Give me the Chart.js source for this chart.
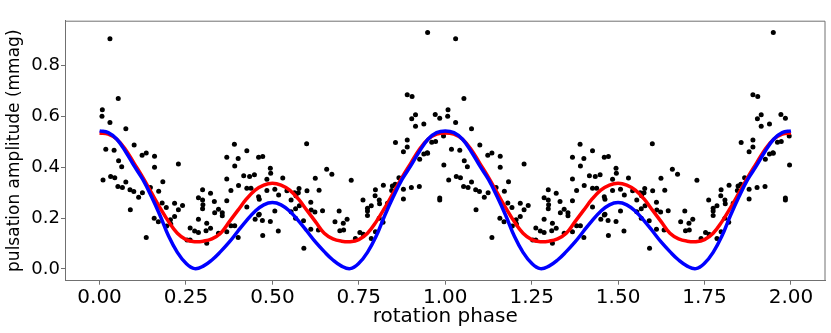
<!DOCTYPE html>
<html>
<head>
<meta charset="utf-8">
<script src="https://cdn.jsdelivr.net/npm/chart.js@4/dist/chart.umd.min.js"></script>
<style>
  html, body { margin: 0; padding: 0; background: #fff; }
  #wrap { width: 831px; height: 333px; }
</style>
</head>
<body>
<div id="wrap"><canvas id="phaseChart" width="831" height="333"></canvas></div>
<script>
// observed amplitudes, one rotation cycle (plotted twice)
var phase = [
  0.030, 0.054, 0.008, 0.007, 0.030, 0.076, 0.100, 0.018, 0.042, 0.135,
  0.123, 0.390, 0.426, 0.159, 0.055, 0.064, 0.159, 0.228, 0.010, 0.032,
  0.044, 0.076, 0.053, 0.066, 0.088, 0.099, 0.113, 0.124, 0.147, 0.171,
  0.183, 0.089, 0.181, 0.193, 0.217, 0.240, 0.228, 0.158, 0.205, 0.217,
  0.170, 0.194, 0.206, 0.135, 0.262, 0.275, 0.286, 0.286, 0.298, 0.286,
  0.299, 0.298, 0.310, 0.308, 0.321, 0.332, 0.333, 0.321, 0.344, 0.355,
  0.355, 0.344, 0.368, 0.368, 0.380, 0.380, 0.391, 0.401, 0.368, 0.368,
  0.391, 0.401, 0.417, 0.434, 0.448, 0.402, 0.426, 0.438, 0.460, 0.426,
  0.450, 0.460, 0.298, 0.262, 0.253, 0.310,
  0.949, 0.890, 0.904, 0.903, 0.914, 0.914, 0.938, 0.971, 0.984, 0.599,
  0.856, 0.890, 0.890, 0.879, 0.961, 0.972, 0.995, 0.948,
  0.460, 0.472, 0.494, 0.495, 0.530, 0.484, 0.484, 0.507, 0.518, 0.462,
  0.507, 0.462, 0.471, 0.494, 0.472, 0.517, 0.542, 0.554, 0.564, 0.575,
  0.577, 0.568, 0.600, 0.554, 0.567, 0.578, 0.567, 0.590, 0.611, 0.612,
  0.623, 0.645, 0.635, 0.624, 0.657, 0.672, 0.611, 0.633, 0.591, 0.681,
  0.693, 0.705, 0.716, 0.695, 0.706, 0.728, 0.740, 0.753, 0.763, 0.762,
  0.775, 0.775, 0.786, 0.786, 0.775, 0.798, 0.797, 0.809, 0.810, 0.798,
  0.809, 0.821, 0.833, 0.845, 0.847, 0.855, 0.820, 0.866, 0.879, 0.879,
  0.902, 0.925, 0.926, 0.938, 0.949, 0.996, 0.984, 0.984
];
var amp = [
  0.905, 0.670, 0.626, 0.601, 0.576, 0.551, 0.487, 0.471, 0.467, 0.456,
  0.447, 0.490, 0.465, 0.443, 0.425, 0.402, 0.400, 0.413, 0.350, 0.363,
  0.359, 0.342, 0.324, 0.320, 0.311, 0.304, 0.282, 0.300, 0.320, 0.305,
  0.343, 0.233, 0.259, 0.242, 0.258, 0.249, 0.233, 0.199, 0.193, 0.206,
  0.185, 0.169, 0.177, 0.123, 0.161, 0.149, 0.195, 0.143, 0.311, 0.280,
  0.252, 0.237, 0.180, 0.150, 0.298, 0.265, 0.221, 0.160, 0.235, 0.221,
  0.209, 0.140, 0.268, 0.146, 0.308, 0.170, 0.170, 0.123, 0.354, 0.439,
  0.405, 0.434, 0.366, 0.363, 0.370, 0.328, 0.317, 0.317, 0.284, 0.243,
  0.195, 0.212, 0.271, 0.114, 0.114, 0.101,
  0.930, 0.685, 0.678, 0.591, 0.606, 0.561, 0.570, 0.607, 0.593, 0.492,
  0.497, 0.507, 0.480, 0.461, 0.498, 0.501, 0.523, 0.457,
  0.439, 0.442, 0.396, 0.376, 0.358, 0.353, 0.308, 0.313, 0.291, 0.274,
  0.228, 0.215, 0.190, 0.186, 0.131, 0.149, 0.307, 0.271, 0.300, 0.300,
  0.316, 0.288, 0.307, 0.225, 0.237, 0.248, 0.199, 0.189, 0.262, 0.232,
  0.224, 0.229, 0.309, 0.357, 0.392, 0.372, 0.156, 0.153, 0.081, 0.185,
  0.228, 0.180, 0.195, 0.150, 0.153, 0.349, 0.120, 0.143, 0.136, 0.271,
  0.239, 0.228, 0.248, 0.120, 0.210, 0.311, 0.288, 0.271, 0.256, 0.146,
  0.199, 0.329, 0.258, 0.308, 0.326, 0.333, 0.183, 0.359, 0.313, 0.275,
  0.320, 0.324, 0.431, 0.452, 0.455, 0.409, 0.279, 0.271
];

// model curves, sampled every 0.025 in phase over one cycle
var curvePhase = [
  0.000, 0.025, 0.050, 0.075, 0.100, 0.125, 0.150, 0.175, 0.200, 0.225,
  0.250, 0.275, 0.300, 0.325, 0.350, 0.375, 0.400, 0.425, 0.450, 0.475,
  0.500, 0.525, 0.550, 0.575, 0.600, 0.625, 0.650, 0.675, 0.700, 0.725,
  0.750, 0.775, 0.800, 0.825, 0.850, 0.875, 0.900, 0.925, 0.950, 0.975,
  1.000
];
var redModel = [
  0.535, 0.530, 0.510, 0.470, 0.415, 0.360, 0.300, 0.240, 0.185, 0.140,
  0.115, 0.107, 0.109, 0.118, 0.140, 0.185, 0.230, 0.275, 0.310, 0.330,
  0.337, 0.330, 0.310, 0.275, 0.230, 0.185, 0.140, 0.118, 0.109, 0.107,
  0.115, 0.140, 0.185, 0.240, 0.300, 0.360, 0.415, 0.470, 0.510, 0.530,
  0.535
];
var blueModel = [
  0.543, 0.536, 0.510, 0.462, 0.405, 0.352, 0.285, 0.210, 0.128, 0.065,
  0.022, 0.001, 0.011, 0.035, 0.068, 0.105, 0.148, 0.190, 0.227, 0.252,
  0.261, 0.252, 0.227, 0.190, 0.148, 0.105, 0.068, 0.035, 0.011, 0.001,
  0.022, 0.065, 0.128, 0.210, 0.285, 0.352, 0.405, 0.462, 0.510, 0.536,
  0.543
];

var xTicks = [0, 0.25, 0.5, 0.75, 1, 1.25, 1.5, 1.75, 2];
var yTicks = [0, 0.2, 0.4, 0.6, 0.8];
var cycles = [0, 1];

function points(xs, ys) {
  var out = [];
  cycles.forEach(function (c) {
    xs.forEach(function (p, i) {
      if (c > 0 && out.length && xs === curvePhase && i === 0) return;
      out.push({ x: p + c, y: ys[i] });
    });
  });
  return out;
}

var FONT = "'DejaVu Sans', 'Liberation Sans', sans-serif";
var frameColor = "#707070";

// top and right spines
var framePlugin = {
  id: "frame",
  afterDraw: function (chart) {
    var a = chart.chartArea, ctx = chart.ctx;
    ctx.save();
    ctx.strokeStyle = frameColor;
    ctx.lineWidth = 1;
    ctx.beginPath();
    ctx.moveTo(a.left, a.top + 0.5);
    ctx.lineTo(a.right - 0.5, a.top + 0.5);
    ctx.lineTo(a.right - 0.5, a.bottom);
    ctx.stroke();
    ctx.restore();
  }
};

var ctx = document.getElementById("phaseChart").getContext("2d");
var chart = new Chart(ctx, {
  type: "scatter",
  data: {
    datasets: [
      {
        label: "model 2",
        data: points(curvePhase, blueModel),
        showLine: true,
        borderColor: "#0000ff",
        borderWidth: 3.5,
        pointRadius: 0,
        tension: 0.4,
        order: 0
      },
      {
        label: "model 1",
        data: points(curvePhase, redModel),
        showLine: true,
        borderColor: "#ff0000",
        borderWidth: 3.5,
        pointRadius: 0,
        tension: 0.4,
        order: 1
      },
      {
        label: "data",
        data: points(phase, amp),
        backgroundColor: "#000",
        borderWidth: 0,
        pointRadius: 2.5,
        order: 2
      }
    ]
  },
  options: {
    responsive: false,
    animation: false,
    devicePixelRatio: 1,
    layout: { padding: { top: 20.7, right: 5.5, left: 0, bottom: 0 } },
    plugins: { legend: { display: false }, tooltip: { enabled: false } },
    scales: {
      x: {
        type: "linear",
        min: -0.1,
        max: 2.1,
        afterBuildTicks: function (s) { s.ticks = xTicks.map(function (v) { return { value: v }; }); },
        afterFit: function (s) { s.height = 52.3; },
        ticks: {
          autoSkip: false,
          maxRotation: 0,
          padding: 1,
          color: "#000",
          font: { family: FONT, size: 20 },
          callback: function (v) { return v.toFixed(2); }
        },
        grid: { drawOnChartArea: false, tickLength: 4, color: frameColor },
        border: { color: frameColor },
        title: {
          display: true,
          text: "rotation phase",
          color: "#000",
          font: { family: FONT, size: 20 },
          padding: { top: 0, bottom: 4 }
        }
      },
      y: {
        min: -0.0465,
        max: 0.9765,
        afterBuildTicks: function (s) { s.ticks = yTicks.map(function (v) { return { value: v }; }); },
        afterFit: function (s) { s.width = 65; },
        ticks: {
          padding: 1,
          color: "#000",
          font: { family: FONT, size: 18 },
          callback: function (v) { return v.toFixed(1); }
        },
        grid: { drawOnChartArea: false, tickLength: 4, color: frameColor },
        border: { color: frameColor },
        title: {
          display: true,
          text: "pulsation amplitude (mmag)",
          color: "#000",
          font: { family: FONT, size: 17 },
          padding: { top: 4, bottom: 0 }
        }
      }
    }
  },
  plugins: [framePlugin]
});
</script>
</body>
</html>
